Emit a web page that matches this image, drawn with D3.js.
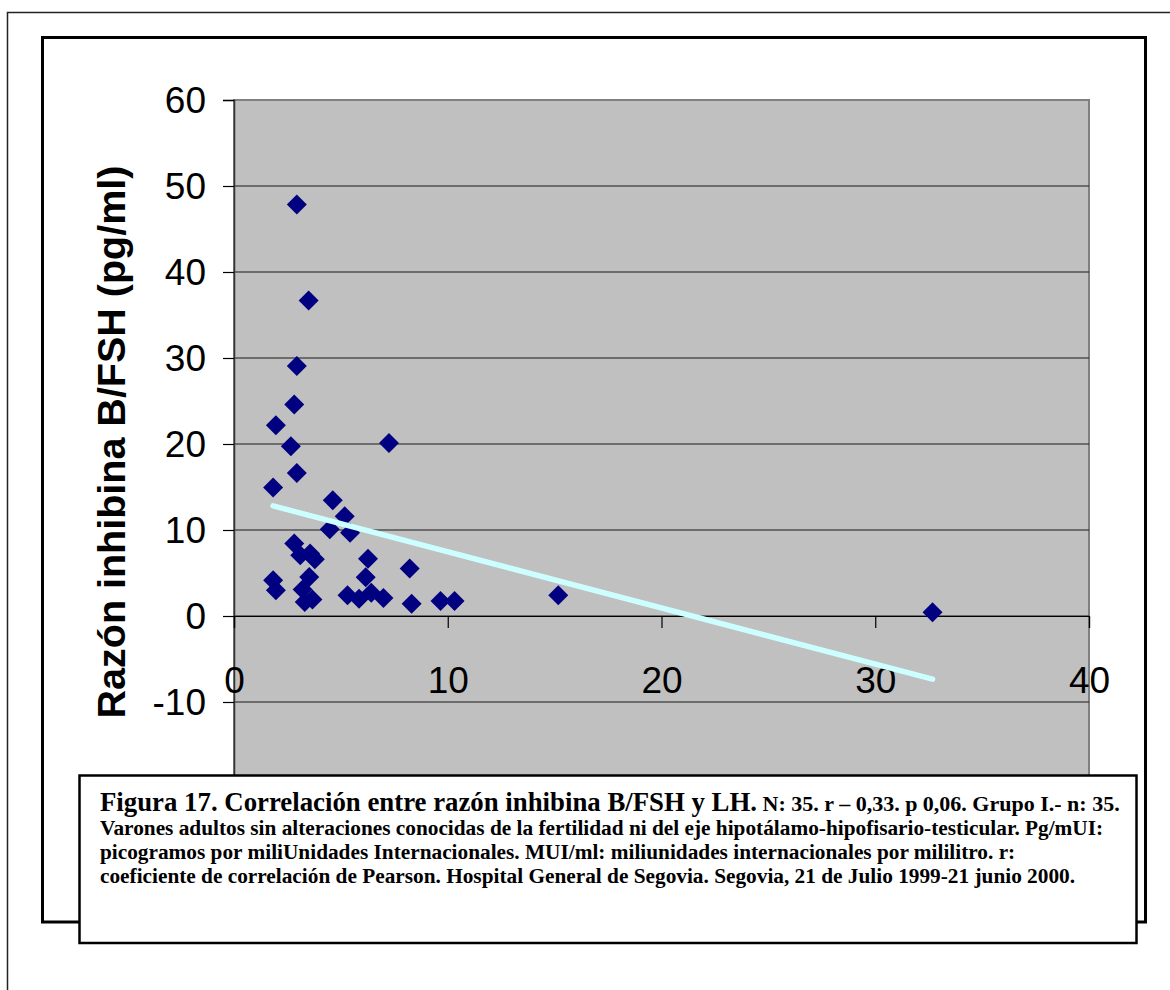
<!DOCTYPE html>
<html>
<head>
<meta charset="utf-8">
<script src="https://cdn.jsdelivr.net/npm/d3@7"></script>
<style>
  html, body { margin: 0; padding: 0; background: #ffffff; }
  svg { display: block; }
</style>
</head>
<body>
<svg id="chart" width="1170" height="990"></svg>
<script>
// ---- data ----
const lhValues = [2.94, 3.49, 2.94, 2.82, 1.96, 2.66, 7.25, 2.94, 1.83, 4.62,
                  5.18, 4.48, 5.43, 2.82, 3.10, 3.56, 3.78, 6.27, 1.83, 1.96,
                  3.52, 3.21, 3.67, 3.31, 6.16, 5.31, 5.85, 6.42, 6.99, 8.22,
                  8.31, 9.66, 10.32, 15.17, 32.68];
const ratioValues = [47.85, 36.7, 29.07, 24.6, 22.17, 19.73, 20.12, 16.63, 14.93, 13.45,
                     11.59, 10.08, 9.67, 8.42, 7.06, 7.26, 6.59, 6.65, 4.15, 2.99,
                     4.53, 3.07, 1.91, 1.63, 4.5, 2.41, 2.02, 2.7, 2.08, 5.51,
                     1.42, 1.74, 1.74, 2.41, 0.43];
const trendX = [1.83, 32.68];
const trendY = [12.8, -7.35];
const xTicks = [0, 10, 20, 30, 40];
const yTicks = [60, 50, 40, 30, 20, 10, 0, -10, -20];
const yTitle = "Razón inhibina B/FSH (pg/ml)";
const captionBig = "Figura 17. Correlación entre razón inhibina B/FSH y LH.";
const captionSmall = " N: 35. r – 0,33. p 0,06. Grupo I.- n: 35.";
const captionLines = [
  "Varones adultos sin alteraciones conocidas de la fertilidad ni del eje hipotálamo-hipofisario-testicular. Pg/mUI:",
  "picogramos por miliUnidades Internacionales. MUI/ml: miliunidades internacionales por mililitro. r:",
  "coeficiente de correlación de Pearson. Hospital General de Segovia. Segovia, 21 de Julio 1999-21 junio 2000."
];

const svg = d3.select("#chart");
const sans = "'Liberation Sans', Arial, sans-serif";
const serif = "'Liberation Serif', 'Times New Roman', serif";

// outer page frame (extends beyond the picture to the right and bottom)
svg.append("path")
  .attr("d", "M1175,12.5 L7.5,12.5 L7.5,995")
  .attr("fill", "none").attr("stroke", "#222").attr("stroke-width", 1.5);

// chart frame
svg.append("rect")
  .attr("x", 42.5).attr("y", 37.5).attr("width", 1103).attr("height", 884.5)
  .attr("fill", "#fff").attr("stroke", "#000").attr("stroke-width", 3);

// scales
const x = d3.scaleLinear().domain([0, 40]).range([234, 1089]);
const y = d3.scaleLinear().domain([-20, 60]).range([788, 100]);

// plot area
svg.append("rect")
  .attr("x", x(0)).attr("y", y(60))
  .attr("width", x(40) - x(0)).attr("height", y(-20) - y(60))
  .attr("fill", "#c0c0c0").attr("stroke", "#808080").attr("stroke-width", 2);

// horizontal gridlines
svg.append("g").selectAll("line").data(yTicks.filter(d => d !== 60 && d !== -20)).join("line")
  .attr("x1", x(0)).attr("x2", x(40))
  .attr("y1", d => y(d)).attr("y2", d => y(d))
  .attr("stroke", "#1a1a1a").attr("stroke-width", 1.2);

// y axis
const yAxis = d3.axisLeft(y).tickValues(yTicks).tickSize(11).tickPadding(17).tickFormat(d => String(d));
const gy = svg.append("g").attr("transform", `translate(${x(0)},0)`).call(yAxis);
gy.select(".domain").attr("stroke", "#333").attr("stroke-width", 1.5);
gy.selectAll(".tick line").attr("stroke", "#000").attr("stroke-width", 1.2);
gy.selectAll(".tick text")
  .attr("font-family", sans).attr("font-size", 37).attr("fill", "#000")
  .attr("dy", "0.33em");

// x axis at y = 0
const xAxis = d3.axisBottom(x).tickValues(xTicks).tickSize(12).tickPadding(39).tickFormat(d => String(d));
const gx = svg.append("g").attr("transform", `translate(0,${y(0)})`).call(xAxis);
gx.select(".domain").attr("stroke", "#000").attr("stroke-width", 1.2);
gx.selectAll(".tick line").attr("stroke", "#000").attr("stroke-width", 1.2);
gx.selectAll(".tick text")
  .attr("font-family", sans).attr("font-size", 37).attr("fill", "#000");

// y axis title
svg.append("text")
  .attr("transform", "translate(125,442) rotate(-90)")
  .attr("text-anchor", "middle")
  .attr("font-family", sans).attr("font-weight", "bold").attr("font-size", 39.5)
  .attr("fill", "#000")
  .text(yTitle);

// points
const pts = lhValues.map((v, i) => ({ x: v, y: ratioValues[i] }));
svg.append("g").selectAll("path").data(pts).join("path")
  .attr("transform", d => `translate(${x(d.x)},${y(d.y)})`)
  .attr("d", "M0,-10L10,0L0,10L-10,0Z")
  .attr("fill", "#000080");

// trend line
const line = d3.line().x(d => x(d[0])).y(d => y(d[1]));
svg.append("path")
  .attr("d", line(trendX.map((v, i) => [v, trendY[i]])))
  .attr("fill", "none").attr("stroke", "#ccffff").attr("stroke-width", 5.5)
  .attr("stroke-linecap", "round");

// caption box
svg.append("rect")
  .attr("x", 79.5).attr("y", 775.5).attr("width", 1057).attr("height", 167.5)
  .attr("fill", "#fff").attr("stroke", "#000").attr("stroke-width", 2.5);

const cap = svg.append("g").attr("font-family", serif).attr("font-weight", "bold").attr("fill", "#000");
const t1 = cap.append("text").attr("x", 100).attr("y", 811);
t1.append("tspan").attr("font-size", 26.8).text(captionBig);
t1.append("tspan").attr("font-size", 22).text(captionSmall);
cap.selectAll("text.l").data(captionLines).join("text")
  .attr("class", "l")
  .attr("x", 100).attr("y", (d, i) => 835 + i * 24)
  .attr("font-size", 21.3)
  .text(d => d);
</script>
</body>
</html>
